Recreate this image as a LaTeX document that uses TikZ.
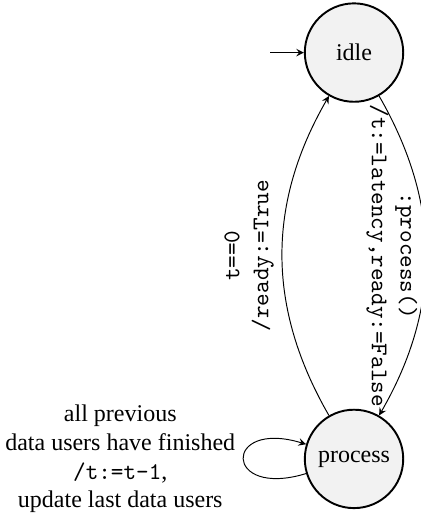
\documentclass[tikz,border=0pt]{standalone}
\usepackage{fontspec}
\setmainfont{Liberation Serif}
\usetikzlibrary{arrows}
\tikzstyle{statenode} = [circle, minimum size=41pt, inner sep=0pt, text centered, draw=black, thick, fill=gray!10]
\tikzstyle{arrow} = [->,>=stealth]

\begin{document}
\begin{tikzpicture}[node distance=5.95cm]

\useasboundingbox (-147.5pt,21.9pt) rectangle (27.5pt,-193.5pt);

%% NODES

\node (idle) [statenode] {idle};
\node (process) [statenode, below of=idle] {process};
\coordinate (start) at ([xshift=-14pt]idle.west);

%% ARROWS

\draw [arrow] (start) -- (idle);
\draw [arrow] (idle) to[bend left=30] node[sloped, below, align=center] {\texttt{:process()}\\\texttt{/t:=latency,ready:=False}} (process);
\draw [arrow] (process) to[bend left=30] node[sloped, above, align=center] {\texttt{t==0}\\\texttt{/ready:=True}} (idle);
\draw [arrow] (process) to[loop left, out=197, in=163, looseness=7.6] node[left, align=center] {all previous\\data users have finished\\\texttt{/t:=t-1},\\update last data users} (process);

\end{tikzpicture}
\end{document}
